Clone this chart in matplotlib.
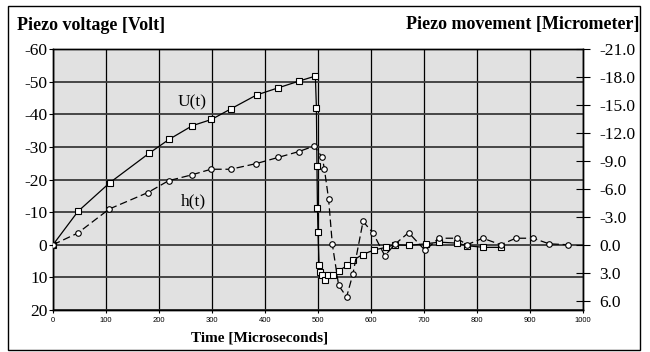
import matplotlib
matplotlib.use("Agg")
import matplotlib.pyplot as plt
from matplotlib.patches import Rectangle

# ---- data ----
u_time = [0, 47, 107, 181, 219, 263, 299, 335, 384, 425, 465, 495, 497, 498,
          499, 500, 502, 504, 508, 513, 519, 528, 539, 555, 566, 584, 606, 628,
          645, 672, 703, 729, 762, 782, 812, 845]
u_volt = [0, -10.2, -19, -28, -32.3, -36.5, -38.4, -41.6, -45.9, -48.1, -50.2,
          -51.7, -42, -24.2, -11.2, -3.8, 6.1, 8.2, 9.2, 10.7, 9.3, 9.3, 8.1,
          6.3, 4.8, 3.0, 1.6, 0.8, 0.0, 0.2, -0.3, -0.8, -0.5, 0.3, 0.8, 0.8]

h_time = [0, 47, 106, 179, 218, 262, 298, 335, 383, 425, 464, 493, 508, 512,
          520, 527, 539, 554, 566, 585, 604, 626, 646, 671, 702, 728, 762, 781,
          811, 845, 873, 906, 936, 972]
h_um = [0, -1.26, -3.83, -5.6, -6.87, -7.5, -8.1, -8.1, -8.7, -9.37, -10.0,
        -10.6, -9.37, -8.15, -4.9, -0.07, 4.37, 5.6, 3.1, -2.5, -1.25, 1.18,
        -0.1, -1.3, 0.6, -0.7, -0.7, 0.0, -0.7, 0.0, -0.7, -0.7, -0.1, 0.0]

x_ticks = [0, 100, 200, 300, 400, 500, 600, 700, 800, 900, 1000]
left_ticks = [-60, -50, -40, -30, -20, -10, 0, 10, 20]
right_ticks = [-21, -18, -15, -12, -9, -6, -3, 0, 3, 6]

title_left = "Piezo voltage [Volt]"
title_right = "Piezo movement [Micrometer]"
x_title = "Time [Microseconds]"

serif = ["Liberation Serif", "DejaVu Serif"]
sans = ["Liberation Sans", "DejaVu Sans"]

fig = plt.figure(figsize=(6.5, 3.52), dpi=100)
fig.patch.set_facecolor("white")
ax = fig.add_axes([53/650, 1 - 310/352, (583-53)/650, (310-49)/352])
ax.set_facecolor("#e1e1e1")

ax.set_xlim(0, 1000)
ax.set_ylim(20, -60)
ax.set_xticks(x_ticks)
ax.set_yticks(left_ticks)
ax.set_xticklabels([str(v) for v in x_ticks], family=sans, fontsize=5.5)
ax.set_yticklabels([str(v) for v in left_ticks], family=serif, fontsize=12.5)
ax.tick_params(axis="y", direction="out", length=3, width=0.8, pad=1)
ax.tick_params(axis="x", direction="out", length=2, width=0.8, pad=3)

for v in x_ticks:
    ax.axvline(v, color="black", lw=0.9, zorder=1)
for v in left_ticks:
    ax.axhline(v, color="#3a3a3a", lw=1.3, zorder=1)
for s in ax.spines.values():
    s.set_linewidth(1.0)
    s.set_color("black")

ax.plot(u_time, u_volt, color="black", lw=0.9, marker="s", markersize=5,
        markerfacecolor="white", markeredgecolor="black", markeredgewidth=0.8,
        zorder=3)

ax2 = ax.twinx()
ax2.set_ylim(7, -21)
ax2.set_yticks(right_ticks)
ax2.set_yticklabels(["%.1f" % v for v in right_ticks], family=serif, fontsize=12.5)
ax2.tick_params(axis="y", direction="inout", length=10, width=0.8, pad=7)
ax2.plot(h_time, h_um, color="black", lw=0.9, linestyle=(0, (6, 3)),
         marker="o", markersize=4, markerfacecolor="white",
         markeredgecolor="black", markeredgewidth=0.8, zorder=3)
for s in ax2.spines.values():
    s.set_linewidth(1.0)

ax.text(262, -43.5, "U(t)", family=serif, fontsize=12.5, ha="center", va="center")
ax.text(264, -13.2, "h(t)", family=serif, fontsize=12.5, ha="center", va="center")

fig.text(17/650, 1 - 25/352, title_left, family=serif, fontweight="bold",
         fontsize=13, ha="left", va="center")
fig.text(640/650, 1 - 25/352, title_right, family=serif, fontweight="bold",
         fontsize=13, ha="right", va="center")
fig.text(260/650, 1 - 338/352, x_title, family=serif, fontweight="bold",
         fontsize=11, ha="center", va="center")

fig.patches.append(Rectangle((8/650, 1 - 350/352), (640-8)/650, (350-6)/352,
                             transform=fig.transFigure, fill=False,
                             edgecolor="black", lw=1.0))

fig.savefig("out.png", dpi=100)
